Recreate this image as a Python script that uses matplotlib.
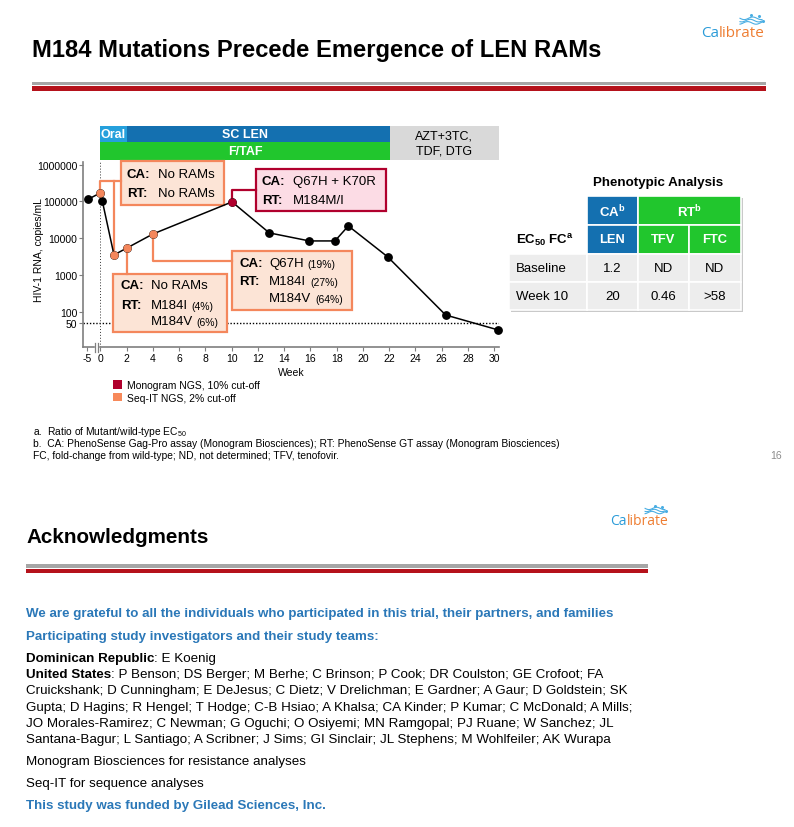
import numpy as np
import matplotlib
matplotlib.use("Agg")
import matplotlib.pyplot as plt
from matplotlib import font_manager
from matplotlib.patches import Rectangle, Patch
from matplotlib.ticker import NullLocator
from matplotlib.transforms import blended_transform_factory

installed = {f.name for f in font_manager.fontManager.ttflist}
SANS = "Liberation Sans"
NARROW = "Liberation Sans Narrow" if "Liberation Sans Narrow" in installed else SANS
LOGO = "Open Sans"

plt.rcParams["font.family"] = [SANS, "DejaVu Sans"]
plt.rcParams["mathtext.default"] = "regular"

# viral load (weeks since first LEN dose, copies/mL)
visit_weeks = [-4.6, 0.0, 0.15, 1.04, 2.03, 4.01, 10.03, 12.87, 15.92, 17.87, 18.89, 21.89, 26.3, 30.27]
hiv_rna = [115000, 170000, 103000, 3500, 5400, 13000, 97000, 13900, 8400, 8400, 21500, 3090, 81, 32]
ngs_lab = ["", "seqit", "", "seqit", "seqit", "seqit", "monogram", "", "", "", "", "", "", ""]

week_ticks = [-5, 0, 2, 4, 6, 8, 10, 12, 14, 16, 18, 20, 22, 24, 26, 28, 30]
rna_ticks = [50, 100, 1000, 10000, 100000, 1000000]
rna_tick_labels = ["50", "100", "1000", "10000", "100000", "1000000"]
rna_cutoff = 50

# treatment bars above the chart
regimen_labels = ["Oral", "SC LEN", "F/TAF", "AZT+3TC,\nTDF, DTG"]
regimen_start = [0, 2, 0, 22.1]
regimen_end = [2, 22.1, 22.1, 30.35]
regimen_row = ["top", "top", "bottom", "both"]

# phenotypic analysis table
pheno_groups = ["CA$^{b}$", "RT$^{b}$"]
pheno_group_span = [1, 2]
pheno_drugs = ["LEN", "TFV", "FTC"]
pheno_visits = ["Baseline", "Week 10"]
pheno_fc = [["1.2", "ND", "ND"],
            ["20", "0.46", ">58"]]

SEQ = "#F4875C"
SEQ_FILL = "#FCE4D6"
MONO = "#B0002D"
MONO_FILL = "#FCDCE5"
BLUE = "#1470B0"
LIGHT_BLUE = "#25A0DC"
GREEN = "#21C62D"
GREY_LINE = "#A6A6A6"
RED_LINE = "#B5121B"
HEAD_BLUE = "#2B78B8"


def fwd(w):
    w = np.asarray(w, dtype=float)
    return np.where(w < 0, w / 5.0, w)


def inv(p):
    p = np.asarray(p, dtype=float)
    return np.where(p < 0, p * 5.0, p)


fig = plt.figure(figsize=(7.94, 8.28), dpi=100)
ov = fig.add_axes([0, 0, 1, 1])
ov.set_xlim(0, 794)
ov.set_ylim(828, 0)
ov.axis("off")
renderer = fig.canvas.get_renderer()


def fit(t, width_px):
    w = t.get_window_extent(renderer).width
    t.set_fontsize(t.get_fontsize() * width_px / w)
    return t.get_fontsize()


# ---------------- chart ----------------
ax = fig.add_axes([83 / 794, 1 - 348.3 / 828, 415.8 / 794, 185 / 828], zorder=2)
ax.set_xscale("function", functions=(fwd, inv))
ax.set_yscale("log")
ax.set_xlim(-6.6, 30.35)
ax.set_ylim(10.7, 1.16e6)
ax.set_xticks(week_ticks, [str(w) for w in week_ticks])
ax.set_yticks(rna_ticks, rna_tick_labels)
ax.xaxis.set_minor_locator(NullLocator())
ax.yaxis.set_minor_locator(NullLocator())
ax.tick_params(labelsize=7.5, length=3, width=0.8, color="#7F7F7F", pad=1.0)
for s in ["top", "right"]:
    ax.spines[s].set_visible(False)
for s in ["left", "bottom"]:
    ax.spines[s].set_color("#7F7F7F")
    ax.spines[s].set_linewidth(1.2)
ax.set_xlabel("Week", fontsize=7.5, labelpad=3)
ax.set_ylabel("HIV-1 RNA, copies/mL", fontsize=7.5)
ax.yaxis.set_label_coords(-0.094, 0.53)

ax.axhline(rna_cutoff, color="black", ls=(0, (1, 1.3)), lw=1.0, zorder=1)
ax.axvline(0, color="#333333", ls=(0, (1, 2)), lw=0.7, zorder=1)

# axis break between -5 and 0
btr = blended_transform_factory(ax.transData, ax.transAxes)
ax.add_patch(Rectangle((-2.02, -0.03), 0.95, 0.06, transform=btr, color="white",
                       clip_on=False, zorder=3))
for bx in [-2.02, -1.07]:
    ax.plot([bx, bx], [-0.025, 0.025], transform=btr, color="#7F7F7F", lw=0.9,
            clip_on=False, zorder=3)

ax.plot(visit_weeks, hiv_rna, color="black", lw=1.1, marker="o", ms=5.3, zorder=5,
        clip_on=False)
for lab, col in [("seqit", SEQ), ("monogram", MONO)]:
    xs = [w for w, s in zip(visit_weeks, ngs_lab) if s == lab]
    ys = [v for v, s in zip(hiv_rna, ngs_lab) if s == lab]
    ax.plot(xs, ys, ls="none", marker="o", ms=5, color=col, zorder=6, clip_on=False)

# regimen bars
row_y = {"top": (1.1097, 1.196), "bottom": (1.0124, 1.1097), "both": (1.0124, 1.196)}
bar_face = [LIGHT_BLUE, BLUE, GREEN, "#D9D9D9"]
bar_text = ["white", "white", "white", "black"]
bar_weight = ["bold", "bold", "bold", "normal"]
text_x = [1.0, 11.05, 11.05, 26.2]
for i, lab in enumerate(regimen_labels):
    y0, y1 = row_y[regimen_row[i]]
    ax.add_patch(Rectangle((regimen_start[i], y0), regimen_end[i] - regimen_start[i], y1 - y0,
                           transform=btr, color=bar_face[i], clip_on=False, zorder=2, lw=0))
    ax.text(text_x[i], (y0 + y1) / 2, lab, transform=btr, ha="center", va="center",
            color=bar_text[i], fontsize=9, fontweight=bar_weight[i], linespacing=1.3,
            zorder=3)


# callouts
def callout(x0, x1, y0, y1, edge, face, rows, lab_x, val_x):
    ax.add_patch(Rectangle((x0, y0), x1 - x0, y1 - y0, fc=face, ec=edge, lw=1.6,
                           clip_on=False, zorder=4))
    for lab, val, pct, y in rows:
        if lab:
            ax.text(lab_x, y, lab, fontsize=9.5, fontweight="bold", va="center", zorder=7)
        t = ax.text(val_x, y, val, fontsize=9.5, va="center", zorder=7)
        if pct:
            ax.annotate(pct, xy=(1, 0.5), xycoords=t, xytext=(2.5, -0.7),
                        textcoords="offset points", fontsize=7.5, va="center", zorder=7)


def connector(xs, ys, col):
    ax.plot(xs, ys, color=col, lw=1.6, clip_on=False, zorder=4.5)


callout(1.58, 9.42, 7.9e4, 1.26e6, SEQ, SEQ_FILL,
        [("CA:", "No RAMs", "", 5.59e5), ("RT:", "No RAMs", "", 1.68e5)], 2.03, 4.39)
connector([visit_weeks[1], visit_weeks[1], 1.58], [hiv_rna[1], 3.6e5, 3.6e5], SEQ)
connector([visit_weeks[3], visit_weeks[3]], [3.6e5, hiv_rna[3]], SEQ)

callout(11.86, 21.76, 5.5e4, 7.64e5, MONO, MONO_FILL,
        [("CA:", "Q67H + K70R", "", 3.5e5), ("RT:", "M184M/I", "", 1.12e5)], 12.3, 14.7)
connector([visit_weeks[6], visit_weeks[6], 11.86], [hiv_rna[6], 2.09e5, 2.09e5], MONO)

callout(0.97, 9.65, 28, 1060, SEQ, SEQ_FILL,
        [("CA:", "No RAMs", "", 537), ("RT:", "M184I", "(4%)", 155),
         ("", "M184V", "(6%)", 56.9)], 1.55, 3.86)
connector([visit_weeks[4], visit_weeks[4]], [hiv_rna[4], 1060], SEQ)

callout(10.03, 19.17, 111, 4470, SEQ, SEQ_FILL,
        [("CA:", "Q67H", "(19%)", 2080), ("RT:", "M184I", "(27%)", 670),
         ("", "M184V", "(64%)", 232)], 10.59, 12.87)
connector([visit_weeks[5], visit_weeks[5], 10.03], [hiv_rna[5], 2350, 2350], SEQ)

fig.legend([Patch(fc=MONO, ec="none"), Patch(fc="#F7895A", ec="none")],
           ["Monogram NGS, 10% cut-off", "Seq-IT NGS, 2% cut-off"],
           loc="upper left", bbox_to_anchor=(113 / 794, 1 - 381 / 828), frameon=False,
           fontsize=7.5, handlelength=0.9, handleheight=0.9, handletextpad=0.45,
           labelspacing=0.25, borderaxespad=0, borderpad=0)

# ---------------- phenotype table ----------------
col_edges = [586.7, 637.7, 689.0, 741.0]
label_left = 509.3
hdr_top, hdr_mid, hdr_bot = 196.7, 225.5, 254.5
row_edges = [254.5, 282.7, 311.0]
shadow = "#C9C9C9"
ov.add_patch(Rectangle((label_left + 2, hdr_bot + 2), col_edges[-1] - label_left, row_edges[-1] - hdr_bot,
                       color=shadow, lw=0))
ov.add_patch(Rectangle((col_edges[0] + 2, hdr_top + 2), col_edges[-1] - col_edges[0], hdr_bot - hdr_top,
                       color=shadow, lw=0))
ov.text(658.3, 182.7, "Phenotypic Analysis", ha="center", va="center", fontsize=9.6,
        fontweight="bold")
group_face = [BLUE, GREEN]
c = 0
for g, lab in enumerate(pheno_groups):
    x0, x1 = col_edges[c], col_edges[c + pheno_group_span[g]]
    ov.add_patch(Rectangle((x0, hdr_top), x1 - x0, hdr_mid - hdr_top, fc=group_face[g],
                           ec="white", lw=1.2))
    ov.text((x0 + x1) / 2, (hdr_top + hdr_mid) / 2 + 0.5, lab, ha="center", va="center",
            color="white", fontsize=9.5, fontweight="bold")
    for k in range(pheno_group_span[g]):
        d0, d1 = col_edges[c + k], col_edges[c + k + 1]
        ov.add_patch(Rectangle((d0, hdr_mid), d1 - d0, hdr_bot - hdr_mid, fc=group_face[g],
                               ec="white", lw=1.2))
        ov.text((d0 + d1) / 2, (hdr_mid + hdr_bot) / 2 + 0.5, pheno_drugs[c + k], ha="center",
                va="center", color="white", fontsize=9.3, fontweight="bold")
    c += pheno_group_span[g]
ov.text(516, 240.5, "EC$_{50}$ FC$^{a}$", va="center", fontsize=9.5, fontweight="bold")
for r, visit in enumerate(pheno_visits):
    y0, y1 = row_edges[r], row_edges[r + 1]
    ov.add_patch(Rectangle((label_left, y0), col_edges[0] - label_left, y1 - y0, fc="#EDEDED",
                           ec="white", lw=1.2))
    ov.text(516, (y0 + y1) / 2 + 0.5, visit, va="center", fontsize=9.5)
    for k, val in enumerate(pheno_fc[r]):
        d0, d1 = col_edges[k], col_edges[k + 1]
        ov.add_patch(Rectangle((d0, y0), d1 - d0, y1 - y0, fc="#EDEDED", ec="white", lw=1.2))
        ov.text((d0 + d1) / 2, (y0 + y1) / 2 + 0.5, val, ha="center", va="center", fontsize=9.5)


# ---------------- slide furniture ----------------
def logo(x, y, size, scale):
    t = ov.text(x, y, "Ca", color="#2A9BD8", fontsize=size, family=LOGO, va="center")
    ov.annotate("librate", xy=(1, 0.5), xycoords=t, va="center", color="#EE7E33",
                fontsize=size, family=LOGO)
    s = np.linspace(0, 1, 40)
    for k in range(3):
        ov.plot(x + (39 + 22 * s) * scale, y + (-14 + 2.3 * k + 1.3 * np.sin(2 * np.pi * (s * 1.3 + k * 0.15))) * scale,
                color="#4AAEE3", lw=0.8)
    ov.plot([x + 50 * scale, x + 58 * scale, x + 62 * scale], [y - 17 * scale, y - 16 * scale, y - 11 * scale],
            ls="none", marker="o", ms=1.2, color="#4AAEE3")


def rules(x0, x1, y):
    ov.add_patch(Rectangle((x0, y), x1 - x0, 3.3, color=GREY_LINE, lw=0))
    ov.add_patch(Rectangle((x0, y + 4.5), x1 - x0, 4.2, color=RED_LINE, lw=0))


# slide 1
t = ov.text(32, 50.5, "M184 Mutations Precede Emergence of LEN RAMs", fontsize=15,
            fontweight="bold", va="center")
fit(t, 571)
rules(32, 766, 82.8)
logo(701, 33.3, 11, 1.0)

fn_a = ov.text(33, 432, "a.  Ratio of Mutant/wild-type EC$_{50}$", fontsize=7, va="center",
               family=NARROW)
fn_b = ov.text(33, 443.8, "b.  CA: PhenoSense Gag-Pro assay (Monogram Biosciences); "
               "RT: PhenoSense GT assay (Monogram Biosciences)", fontsize=7, va="center",
               family=NARROW)
fn_size = fit(fn_b, 524)
fn_a.set_fontsize(fn_size)
ov.text(33, 455.8, "FC, fold-change from wild-type; ND, not determined; TFV, tenofovir.",
        fontsize=fn_size, va="center", family=NARROW)
ov.text(770, 456, "16", fontsize=7.5, va="center", color="#8C8C8C", family=NARROW)

# slide 2
t = ov.text(26, 538, "Acknowledgments", fontsize=15, fontweight="bold", va="center")
fit(t, 183)
rules(26, 648, 565.3)
logo(610, 522, 10, 0.9)

t = ov.text(26, 614, "We are grateful to all the individuals who participated in this trial, "
            "their partners, and families", fontsize=10, fontweight="bold", va="center",
            color=HEAD_BLUE, family=NARROW)
head_size = fit(t, 588)
ov.text(26, 637, "Participating study investigators and their study teams:", fontsize=head_size,
        fontweight="bold", va="center", color=HEAD_BLUE, family=NARROW)
ov.text(26, 806, "This study was funded by Gilead Sciences, Inc.", fontsize=head_size,
        fontweight="bold", va="center", color=HEAD_BLUE, family=NARROW)

investigators = [
    ("Dominican Republic", ": E Koenig"),
    ("United States", ": P Benson; DS Berger; M Berhe; C Brinson; P Cook; DR Coulston; GE Crofoot; FA"),
    ("", "Cruickshank; D Cunningham; E DeJesus; C Dietz; V Drelichman; E Gardner; A Gaur; D Goldstein; SK"),
    ("", "Gupta; D Hagins; R Hengel; T Hodge; C-B Hsiao; A Khalsa; CA Kinder; P Kumar; C McDonald; A Mills;"),
    ("", "JO Morales-Ramirez; C Newman; G Oguchi; O Osiyemi; MN Ramgopal; PJ Ruane; W Sanchez; JL"),
    ("", "Santana-Bagur; L Santiago; A Scribner; J Sims; GI Sinclair; JL Stephens; M Wohlfeiler; AK Wurapa"),
]
probe = ov.text(0, 0, investigators[-1][1], fontsize=10)
body_size = fit(probe, 586)
probe.remove()
for i, (lead, rest) in enumerate(investigators):
    y = 659 + 16.2 * i
    if lead:
        b = ov.text(26, y, lead, fontsize=body_size, fontweight="bold", va="center")
        ov.annotate(rest, xy=(1, 0.5), xycoords=b, va="center", fontsize=body_size)
    else:
        ov.text(26, y, rest, fontsize=body_size, va="center")
ov.text(26, 762, "Monogram Biosciences for resistance analyses", fontsize=body_size, va="center")
ov.text(26, 784, "Seq-IT for sequence analyses", fontsize=body_size, va="center")

fig.savefig("out.png", dpi=100)
